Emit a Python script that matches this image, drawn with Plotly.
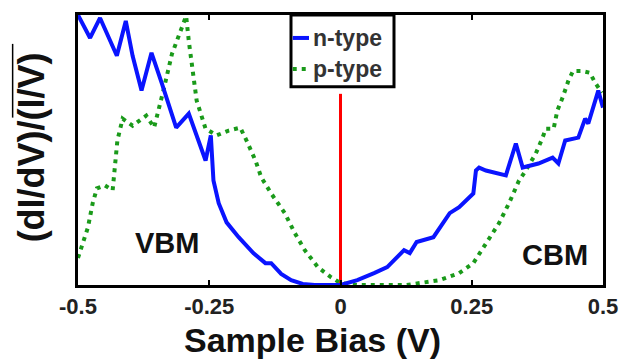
import plotly.graph_objects as go

# n-type (solid blue)
n_x = [-0.5, -0.477, -0.458, -0.426, -0.409, -0.396, -0.379, -0.360, -0.340, -0.313,
       -0.289, -0.257, -0.247, -0.242, -0.232, -0.217, -0.194, -0.166, -0.143, -0.132,
       -0.113, -0.094, -0.072, -0.049,
       0.0, 0.032, 0.064, 0.089, 0.121, 0.132, 0.145, 0.177, 0.208, 0.226,
       0.253, 0.258, 0.264, 0.277, 0.315, 0.334, 0.347, 0.377, 0.404, 0.415,
       0.428, 0.453, 0.466, 0.472, 0.491, 0.5]
n_y = [1.00, 0.915, 0.989, 0.849, 0.978, 0.849, 0.720, 0.860, 0.745, 0.583,
       0.635, 0.461, 0.554, 0.387, 0.303, 0.232, 0.177, 0.118, 0.081, 0.081,
       0.041, 0.018, 0.004, 0.0,
       0.0, 0.018, 0.044, 0.066, 0.129, 0.118, 0.159, 0.177, 0.266, 0.288,
       0.339, 0.424, 0.435, 0.424, 0.406, 0.524, 0.435, 0.450, 0.472, 0.450,
       0.535, 0.546, 0.616, 0.598, 0.720, 0.657]

# p-type (dotted green)
p_x = [-0.5, -0.491, -0.481, -0.472, -0.464, -0.449, -0.434, -0.425, -0.415, -0.396,
       -0.370, -0.355, -0.345, -0.336, -0.321, -0.302, -0.294, -0.289, -0.283, -0.274,
       -0.257, -0.236, -0.213, -0.191, -0.179, -0.162, -0.151, -0.132, -0.106, -0.087,
       -0.068, -0.049, -0.043, -0.019, 0.0, 0.032, 0.126, 0.189, 0.226, 0.253,
       0.277, 0.302, 0.321, 0.340, 0.353, 0.372, 0.385, 0.391, 0.406, 0.413,
       0.423, 0.434, 0.443, 0.460, 0.475, 0.485, 0.498]
p_y = [0.100, 0.155, 0.214, 0.303, 0.358, 0.369, 0.351, 0.535, 0.616, 0.590,
       0.627, 0.583, 0.657, 0.731, 0.856, 0.952, 0.996, 0.904, 0.804, 0.683,
       0.579, 0.554, 0.572, 0.583, 0.535, 0.461, 0.399, 0.339, 0.266, 0.192,
       0.129, 0.081, 0.066, 0.030, 0.007, 0.0, 0.0, 0.018, 0.044, 0.081,
       0.155, 0.229, 0.303, 0.387, 0.424, 0.487, 0.546, 0.579, 0.579, 0.646,
       0.694, 0.756, 0.793, 0.793, 0.786, 0.749, 0.712]

# zero-bias marker (red)
zero_x = [0.0, 0.0]
zero_y = [0.0, 0.708]

tick_vals = [-0.5, -0.25, 0, 0.25, 0.5]
tick_text = ["-0.5", "-0.25", "0", "0.25", "0.5"]

FONT = "Liberation Sans, Arial, sans-serif"
TXT = "#111111"

fig = go.Figure()
fig.add_trace(go.Scatter(x=zero_x, y=zero_y, mode="lines",
                         line=dict(color="#ff0000", width=3), showlegend=False))
fig.add_trace(go.Scatter(x=p_x, y=p_y, mode="lines", name="p-type",
                         line=dict(color="#1a9a1a", width=4, dash="4px,5px"),
                         showlegend=False))
fig.add_trace(go.Scatter(x=n_x, y=n_y, mode="lines", name="n-type",
                         line=dict(color="#0a14ff", width=4), showlegend=False))

fig.update_xaxes(range=[-0.5, 0.5], tickvals=tick_vals,
                 ticktext=["<b>%s</b>" % t for t in tick_text],
                 showline=True, linecolor="black", linewidth=3, mirror="allticks",
                 ticks="inside", ticklen=5, tickwidth=2, tickcolor="black",
                 showgrid=False, zeroline=False,
                 tickfont=dict(family=FONT, size=22, color="#222222"))
fig.update_yaxes(range=[0, 1.0], showticklabels=False, ticks="",
                 showline=True, linecolor="black", linewidth=3, mirror=True,
                 showgrid=False, zeroline=False)

ann = []
ann.append(dict(text="<b>(dI/dV)/(I/V)</b>", x=-0.088, y=0.509, xref="paper", yref="paper",
                textangle=-90, showarrow=False, xanchor="center", yanchor="middle",
                font=dict(family=FONT, size=36, color=TXT)))
ann.append(dict(text="<b>Sample Bias (V)</b>", x=0.447, y=-0.203, xref="paper", yref="paper",
                showarrow=False, xanchor="center", yanchor="middle",
                font=dict(family=FONT, size=34, color=TXT)))
ann.append(dict(text="<b>VBM</b>", x=-0.33, y=0.155, xref="x", yref="y", showarrow=False,
                font=dict(family=FONT, size=29, color=TXT)))
ann.append(dict(text="<b>CBM</b>", x=0.408, y=0.11, xref="x", yref="y", showarrow=False,
                font=dict(family=FONT, size=29, color=TXT)))
ann.append(dict(text="<b>n-type</b>", x=0.443, y=0.915, xref="paper", yref="paper",
                showarrow=False, xanchor="left", yanchor="middle",
                font=dict(family=FONT, size=23, color="#333333")))
ann.append(dict(text="<b>p-type</b>", x=0.443, y=0.80, xref="paper", yref="paper",
                showarrow=False, xanchor="left", yanchor="middle",
                font=dict(family=FONT, size=23, color="#333333")))

shapes = []
# legend box
shapes.append(dict(type="rect", xref="paper", yref="paper", x0=0.4057, x1=0.6019,
                   y0=0.734, y1=1.0, line=dict(color="black", width=3),
                   fillcolor="white", layer="above"))
shapes.append(dict(type="line", xref="paper", yref="paper", x0=0.409, x1=0.440,
                   y0=0.915, y1=0.915, line=dict(color="#0a14ff", width=4), layer="above"))
shapes.append(dict(type="line", xref="paper", yref="paper", x0=0.409, x1=0.440,
                   y0=0.80, y1=0.80, line=dict(color="#1a9a1a", width=4, dash="4px,5px"),
                   layer="above"))
# overline on the y-axis title's denominator
shapes.append(dict(type="line", xref="paper", yref="paper", x0=-0.1245, x1=-0.1245,
                   y0=0.62, y1=0.893, line=dict(color="black", width=1.5)))

fig.update_layout(width=630, height=360, margin=dict(l=78, r=22, t=14, b=75),
                  paper_bgcolor="white", plot_bgcolor="white",
                  annotations=ann, shapes=shapes, showlegend=False)

fig.write_html("out.html")
